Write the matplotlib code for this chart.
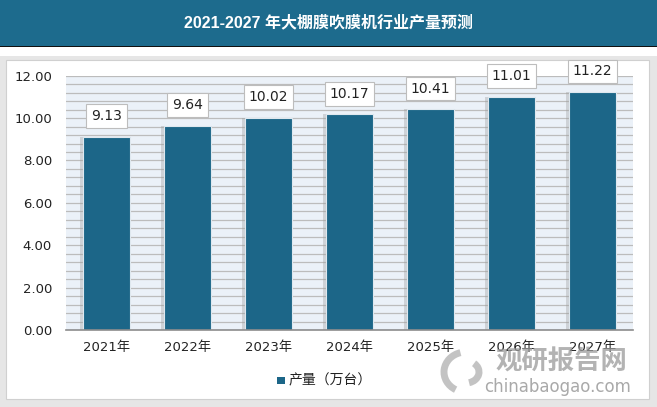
import matplotlib.pyplot as plt
from matplotlib.patches import Rectangle, Arc
import numpy as np

plt.rcParams['font.family'] = ['DejaVu Sans', 'Noto Sans CJK SC']

years = ['2021年', '2022年', '2023年', '2024年', '2025年', '2026年', '2027年']
output = [9.13, 9.64, 10.02, 10.17, 10.41, 11.01, 11.22]
yticks = [0, 2, 4, 6, 8, 10, 12]

bar_color = '#1c6688'
title_color = '#1d6b8d'

fig = plt.figure(figsize=(6.57, 4.07), dpi=100)
fig.patch.set_facecolor('#e6e6e6')

# title bar
fig.patches.append(Rectangle((0, 1 - 46 / 407), 1, 46 / 407, transform=fig.transFigure,
                             facecolor=title_color, edgecolor='none', zorder=-2))
fig.patches.append(Rectangle((0, 1 - 47 / 407), 1, 1.5 / 407, transform=fig.transFigure,
                             facecolor='#111111', edgecolor='none', zorder=-2))
fig.patches.append(Rectangle((0, 1 - 56 / 407), 1, 9 / 407, transform=fig.transFigure,
                             facecolor='white', edgecolor='none', zorder=-2))
fig.text(0.5, 1 - 22 / 407, '2021-2027 年大棚膜吹膜机行业产量预测', color='white',
         fontsize=11.5, fontweight='bold', ha='center', va='center',
         family=['Liberation Sans', 'Noto Sans CJK SC'])

# white panel
fig.patches.append(Rectangle((6 / 657, 1 - 399 / 407), 643 / 657, 339 / 407,
                             transform=fig.transFigure, facecolor='white',
                             edgecolor='#d0d0d0', lw=0.8, zorder=-2))

ax = fig.add_axes([66 / 657, 1 - 330 / 407, 567 / 657, 254.3 / 407])
ax.set_facecolor('#ebf1f8')
x = np.arange(len(years))
ax.set_xlim(-0.5, len(years) - 0.5)
ax.set_ylim(0, 12)

for gy in np.arange(0.4, 12.01, 0.4):
    ax.axhline(gy, color='#bcbcbc', lw=0.9, zorder=1)

# bar shadows
ax.bar(x - 0.04, output, width=0.57, color='#9a9a9a', alpha=0.35, zorder=2)
bars = ax.bar(x, output, width=0.57, color=bar_color, edgecolor='#dfe8ef', lw=0.8, zorder=3)

for xi, v in zip(x, output):
    ax.annotate(f'{v:.2f}', (xi, v), xytext=(0, 15), textcoords='offset points',
                ha='center', va='center', fontsize=10, color='#222222', zorder=5,
                bbox=dict(boxstyle='square,pad=0.35', facecolor='white',
                          edgecolor='#bdbdbd', lw=0.8))

ax.set_yticks(yticks)
ax.set_yticklabels([f'{t:.2f}' for t in yticks], fontsize=9.5, color='#222222')
ax.set_xticks(x)
ax.set_xticklabels(years, fontsize=9.5, color='#222222')
ax.tick_params(length=0, pad=8)
ax.tick_params(axis='y', pad=10)
for s in ['top', 'right', 'left']:
    ax.spines[s].set_visible(False)
ax.spines['bottom'].set_color('#8c8c8c')
ax.spines['bottom'].set_linewidth(1.2)
ax.spines['bottom'].set_zorder(4)

# legend
fig.patches.append(Rectangle((277 / 657, 1 - 384 / 407), 8 / 657, 7 / 407,
                             transform=fig.transFigure, facecolor=bar_color))
fig.text(289 / 657, 1 - 380 / 407, '产量（万台）', fontsize=10, color='#222222',
         ha='left', va='center', family=['Noto Sans CJK SC'])

# watermark
for (w, h, t1, t2) in [(44, 40, 100, 250), (26, 22, 280, 60)]:
    fig.patches.append(Arc((466 / 657, 1 - 372 / 407), w / 657, h / 407, theta1=t1, theta2=t2,
                           transform=fig.transFigure, color='#b5b5b5', lw=5, alpha=0.8))
fig.text(561 / 657, 1 - 362 / 407, '观研报告网', fontsize=19, fontweight='bold',
         color='#9a9a9a', alpha=0.75, ha='center', va='center',
         family=['Noto Sans CJK SC'])
fig.text(558 / 657, 1 - 387 / 407, 'chinabaogao.com', fontsize=12,
         color='#9a9a9a', alpha=0.85, ha='center', va='center')

fig.savefig('out.png', dpi=100, facecolor=fig.get_facecolor())
